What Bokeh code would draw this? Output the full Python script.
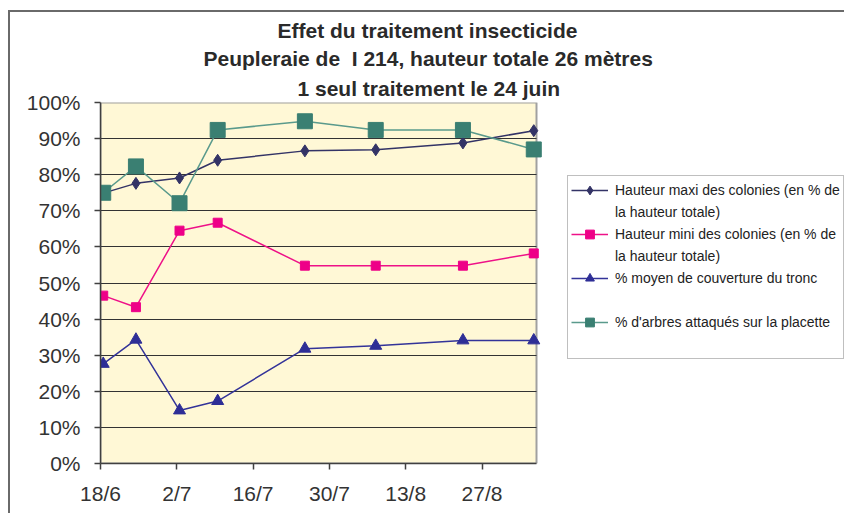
import datetime as dt
from bokeh.plotting import figure
from bokeh.models import (Legend, LegendItem, Title, FixedTicker, PrintfTickFormatter,
                          Range1d)
from bokeh.embed import file_html
from bokeh.resources import INLINE

# ---- data ----
dates = ["18/6", "24/6", "2/7", "9/7", "25/7", "7/8", "23/8", "5/9"]
hauteur_maxi = [74.9, 77.6, 79.1, 84.0, 86.6, 86.9, 88.8, 92.2]
hauteur_mini = [46.5, 43.3, 64.5, 66.7, 54.8, 54.8, 54.8, 58.2]
couverture = [27.6, 34.3, 14.7, 17.3, 31.8, 32.6, 34.1, 34.1]
arbres_attaques = [75.0, 82.3, 72.1, 92.4, 94.8, 92.4, 92.4, 87.0]
tick_labels = ["18/6", "2/7", "16/7", "30/7", "13/8", "27/8"]
y_ticks = [0, 10, 20, 30, 40, 50, 60, 70, 80, 90, 100]
series_names = [
    ["Hauteur maxi des colonies (en % de", "la hauteur totale)"],
    ["Hauteur mini des colonies (en % de", "la hauteur totale)"],
    ["% moyen de couverture du tronc", " "],
    ["% d'arbres attaqués sur la placette", " "],
]
title_lines = ["Effet du traitement insecticide",
               "Peupleraie de \u00a0I 214, hauteur totale 26 mètres",
               "1 seul traitement le 24 juin"]
title_offsets = [177, 103, 197]   # left-aligned offsets so lines centre on the chart

YEAR = 2003
def to_day(s):
    d, m = s.split("/")
    origin = dt.date(YEAR, 6, 18)
    return (dt.date(YEAR, int(m), int(d)) - origin).days

x = [to_day(d) + 0.5 for d in dates]   # points centred within their day
ticks = [to_day(t) for t in tick_labels]

FONT = "Liberation Sans"
X_END = 80                      # end of the plot area (days after 18/6)
FRAME_W = 746                   # frame runs to the canvas edge (legend lives inside it)
PLOT_W = 436                    # pixel width of the yellow plot area
X_VIEW_END = X_END * FRAME_W / PLOT_W

p = figure(width=836, height=503, output_backend="svg", toolbar_location=None,
           x_range=Range1d(0, X_VIEW_END), y_range=Range1d(0, 100),
           min_border_left=90, min_border_right=0, min_border_top=90, min_border_bottom=52)
p.styles = {"border-left": "2px solid #6a6a6a", "border-top": "2px solid #6a6a6a",
            "margin-left": "8px", "margin-top": "10px"}

p.background_fill_color = "white"
p.border_fill_color = "white"
p.outline_line_color = None

# yellow plot area with grey border
p.quad(left=[0], right=[X_END], bottom=[y_ticks[0]], top=[y_ticks[-1]],
       fill_color="#FFF8D6", line_color="#A0A0A0", line_width=2, level="image")

# axes
p.xaxis.ticker = FixedTicker(ticks=ticks)
p.xaxis.major_label_overrides = {t: l for t, l in zip(ticks, tick_labels)}
p.xaxis.bounds = (0, X_END)
p.yaxis.ticker = FixedTicker(ticks=y_ticks)
p.yaxis.formatter = PrintfTickFormatter(format="%d%%")
for ax in (p.xaxis, p.yaxis):
    ax.axis_line_color = "#404040"
    ax.axis_line_width = 1.5
    ax.major_tick_line_color = "#404040"
    ax.major_tick_line_width = 1.5
    ax.major_tick_in = 0
    ax.major_tick_out = 6
    ax.minor_tick_line_color = None
    ax.major_label_text_font = FONT
    ax.major_label_text_font_size = "21px"
    ax.major_label_text_color = "#333333"
p.yaxis.major_label_standoff = 14
p.xaxis.major_label_standoff = 12

p.xgrid.grid_line_color = None
inner = y_ticks[1:-1]
try:
    p.ygrid.ticker = FixedTicker(ticks=inner)
    p.ygrid.cross_bounds = (0, X_END)
    p.ygrid.grid_line_color = "#333333"
    p.ygrid.grid_line_width = 1.2
except Exception:
    p.ygrid.grid_line_color = None
    p.segment(x0=[0] * len(inner), x1=[X_END] * len(inner), y0=inner, y1=inner,
              line_color="#333333", line_width=1.2, level="underlay")

# title lines (added bottom-up)
for i, (txt, off) in enumerate(reversed(list(zip(title_lines, title_offsets)))):
    t = Title(text=txt, align="left", offset=off, text_font=FONT,
              text_font_size="21px", text_font_style="bold", text_color="#2a2a2a",
              standoff=6 if i == 0 else 3)
    p.add_layout(t, "above")

# series
r1l = p.line(x, hauteur_maxi, line_color="#333366", line_width=1.5)
r1m = p.scatter(x, hauteur_maxi, marker="diamond", size=12, color="#333366")
r2l = p.line(x, hauteur_mini, line_color="#EE1188", line_width=1.5)
r2m = p.scatter(x, hauteur_mini, marker="square", size=9, color="#EE0088")
r3l = p.line(x, couverture, line_color="#333399", line_width=1.5)
r3m = p.scatter(x, couverture, marker="triangle", size=12, color="#2E2E96")
r4l = p.line(x, arbres_attaques, line_color="#5A9A8C", line_width=1.5)
r4m = p.scatter(x, arbres_attaques, marker="square", size=15, color="#3A7F72")

blank = p.line([], [], line_alpha=0)   # invisible glyph for continuation lines

items = []
for (first, second), rends in zip(series_names,
                                  [[r1l, r1m], [r2l, r2m], [r3l, r3m], [r4l, r4m]]):
    items.append(LegendItem(label=first, renderers=rends))
    items.append(LegendItem(label=second, renderers=[blank]))

legend = Legend(items=items, location=(467, 104), orientation="vertical",
                label_text_font=FONT, label_text_font_size="14px",
                label_text_color="#222222", glyph_width=37, glyph_height=22,
                label_standoff=7, label_height=22, spacing=0, padding=3,
                margin=0, border_line_color="#808080", border_line_width=1.5,
                background_fill_color="white", background_fill_alpha=1)
p.add_layout(legend, "center")

open("out.html", "w").write(file_html(p, INLINE))
